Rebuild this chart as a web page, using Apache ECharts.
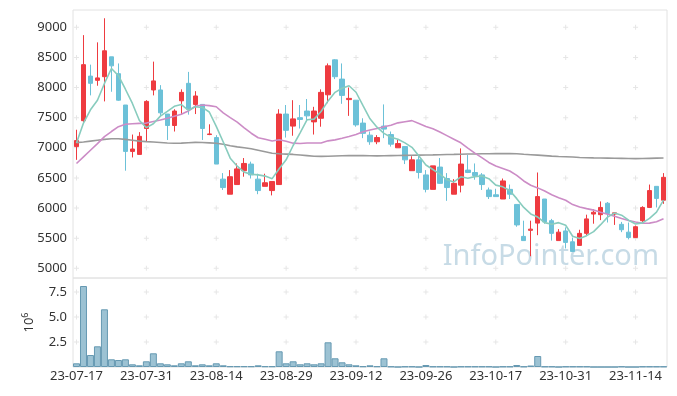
<!DOCTYPE html>
<html><head><meta charset="utf-8">
<script src="https://cdn.jsdelivr.net/npm/echarts@6/dist/echarts.min.js"></script>
<style>html,body{margin:0;padding:0;background:#fff}#c{width:677px;height:396px}</style>
</head><body><div id="c"></div>
<script>
const dates = ['23-07-17','23-07-18','23-07-19','23-07-20','23-07-21','23-07-24','23-07-25','23-07-26','23-07-27','23-07-28',
'23-07-31','23-08-01','23-08-02','23-08-03','23-08-04','23-08-07','23-08-08','23-08-09','23-08-10','23-08-11',
'23-08-14','23-08-16','23-08-17','23-08-18','23-08-21','23-08-22','23-08-23','23-08-24','23-08-25','23-08-28',
'23-08-29','23-08-30','23-08-31','23-09-01','23-09-04','23-09-05','23-09-06','23-09-07','23-09-08','23-09-11',
'23-09-12','23-09-13','23-09-14','23-09-15','23-09-18','23-09-19','23-09-20','23-09-21','23-09-22','23-09-25',
'23-09-26','23-09-27','23-10-04','23-10-05','23-10-06','23-10-10','23-10-11','23-10-12','23-10-13','23-10-16',
'23-10-17','23-10-18','23-10-19','23-10-20','23-10-23','23-10-24','23-10-25','23-10-26','23-10-27','23-10-30',
'23-10-31','23-11-01','23-11-02','23-11-03','23-11-06','23-11-07','23-11-08','23-11-09','23-11-10','23-11-13',
'23-11-14','23-11-15','23-11-16','23-11-17','23-11-20'];

const open = [7020,7450,8190,8120,8180,8510,8230,7710,6940,6890,
7320,7960,7960,7560,7370,7780,8070,7720,7720,7220,
7170,6480,6230,6390,6620,6730,6480,6360,6290,6390,
7560,7360,7500,7610,7430,7490,7880,8460,8140,7800,
7790,7410,7210,7100,7360,7220,7000,7020,6620,6800,
6550,6310,6680,6490,6230,6380,6630,6590,6550,6300,
6220,6150,6310,6060,5530,5630,5750,6150,5790,5460,
5620,5440,5380,5580,5900,5890,6080,5900,5730,5600,
5510,5790,6010,6360,6130];
const close = [7120,8380,8070,8160,8610,8360,7790,6940,6980,7190,
7770,8110,7580,7370,7610,7920,7640,7860,7320,7230,
6730,6340,6520,6650,6740,6550,6290,6420,6440,7560,
7290,7480,7470,7530,7610,7920,8360,8180,7870,7820,
7380,7240,7100,7170,7310,7060,7070,6800,6800,6590,
6310,6700,6410,6340,6410,6730,6590,6540,6390,6190,
6190,6450,6230,5720,5460,5650,6190,5770,5580,5600,
5430,5280,5580,5820,5930,6010,5910,5920,5640,5510,
5690,6010,6290,6160,6510];
const low = [6800,7420,7870,8030,7770,7930,7780,6620,6840,6890,
7100,7870,7530,7130,7270,7560,7550,7560,7130,7210,
6730,6300,6230,6390,6520,6490,6230,6360,6210,6390,
7170,7200,7320,7460,7220,7350,7740,8140,7730,7530,
7350,7160,7050,7060,7160,7020,7000,6730,6620,6490,
6260,6310,6400,6120,6230,6260,6580,6470,6300,6150,
6190,6150,6150,5690,5460,5200,5550,5740,5460,5460,
5330,5280,5380,5550,5740,5800,5760,5720,5600,5480,
5510,5770,6000,6010,6070];
const high = [7300,8870,8380,8750,9150,8510,8400,7710,7220,7260,
7790,8430,8040,7560,7640,7970,8260,7940,7720,7390,
7210,6580,6630,6740,6830,6770,6570,6570,6440,7640,
7710,7790,7710,7810,7680,7970,8400,8470,8400,8000,
7790,7490,7270,7210,7720,7270,7140,7020,6860,6880,
6630,6700,6830,6580,6480,6990,6880,6740,6580,6340,
6320,6490,6390,6060,5790,5790,6590,6150,5820,5650,
5680,5510,5640,5890,5980,6110,6100,5930,5770,5760,
5710,6030,6390,6360,6580];

// volume in millions of shares
const volume = [0.37,8.1,1.2,2.07,5.77,0.77,0.7,0.77,0.27,0.17,
0.57,1.37,0.37,0.27,0.17,0.37,0.57,0.17,0.27,0.17,
0.37,0.17,0.07,0.07,0.07,0.07,0.17,0.07,0.07,1.57,
0.37,0.57,0.27,0.37,0.27,0.37,2.47,0.87,0.47,0.27,
0.17,0.07,0.17,0.07,0.87,0.05,0,0.05,0.05,0,
0.2,0.05,0.05,0.05,0,0.05,0.05,0.05,0.05,0.05,
0,0.05,0.05,0.2,0.05,0.15,1.1,0.05,0.05,0,
0.05,0.05,0.05,0.05,0,0,0,0,0.05,0,
0,0.05,0.05,0.05,0.05];

const ma5Head = [7080,7410,7630,7790];
const ma20Head = [6740,6850,6960,7070,7185,7270,7350,7390,7400,7405,7410,7435,7460,7490,7525,7556,7610,7690,7710];
const ma60 = [7086,7095,7110,7125,7140,7150,7150,7140,7125,7110,
7102,7095,7088,7080,7075,7078,7085,7090,7088,7082,
7075,7060,7035,7015,7000,6985,6960,6935,6910,6900,
6895,6890,6880,6870,6860,6858,6860,6865,6868,6870,
6870,6870,6868,6866,6868,6870,6872,6874,6876,6878,
6880,6882,6885,6888,6890,6893,6896,6898,6900,6902,
6903,6903,6903,6900,6892,6885,6878,6870,6862,6856,
6852,6846,6840,6835,6832,6830,6828,6826,6824,6822,
6820,6822,6825,6828,6831];

const priceTicks = [5000,5500,6000,6500,7000,7500,8000,8500,9000];
const volTicks = [2.5,5,7.5];
const labelStep = 10;

function movingAvg(n, head) {
  return close.map((c, i) => {
    if (i < n - 1) return head[i];
    let s = 0;
    for (let k = i - n + 1; k <= i; k++) s += close[k];
    return +(s / n).toFixed(1);
  });
}
const ma5 = movingAvg(5, ma5Head);
const ma20 = movingAvg(20, ma20Head);

const candles = dates.map((d, i) => [open[i], close[i], low[i], high[i]]);
const gridCats = dates.filter((d, i) => i % labelStep === 0);
const crossMain = [];
gridCats.forEach(d => priceTicks.forEach(v => crossMain.push([d, v])));
const crossVol = [];
gridCats.forEach(d => volTicks.forEach(v => crossVol.push([d, v])));

const UP = '#ee3b40', DOWN = '#6cc1d8';
const FONT = 'Noto Sans';
const crossSym = 'path://M0,2h5v1h-5z M2,0h1v5h-1z';

const chart = echarts.init(document.getElementById('c'), null, {renderer: 'canvas'});
chart.setOption({
  animation: false,
  backgroundColor: '#fff',
  textStyle: {fontFamily: FONT},
  graphic: [{
    type: 'text', x: 659, y: 257, z: 0,
    style: {text: 'InfoPointer.com', align: 'right', verticalAlign: 'middle',
      font: '29px "Noto Sans"', fill: '#c7dbe6'}
  }],
  grid: [
    {left: 73, right: 10, top: 10, height: 268, show: true, borderColor: '#e2e2e2', borderWidth: 1},
    {left: 73, right: 10, top: 278, height: 89, show: true, borderColor: '#e2e2e2', borderWidth: 1}
  ],
  xAxis: [
    {type: 'category', gridIndex: 0, data: dates, boundaryGap: true,
      axisLine: {show: false}, axisTick: {show: false}, axisLabel: {show: false}, splitLine: {show: false}},
    {type: 'category', gridIndex: 1, data: dates, boundaryGap: true,
      axisLine: {show: false}, axisTick: {show: false}, splitLine: {show: false},
      axisLabel: {interval: labelStep - 1, color: '#333', fontSize: 13, fontFamily: FONT, margin: 3}}
  ],
  yAxis: [
    {type: 'value', gridIndex: 0, min: 4839, max: 9287, minInterval: 500, maxInterval: 500,
      axisLine: {show: false}, axisTick: {show: false}, splitLine: {show: false},
      axisLabel: {color: '#333', fontSize: 13, fontFamily: FONT, margin: 6, showMinLabel: false, showMaxLabel: false,
        formatter: v => String(v)}},
    {type: 'value', gridIndex: 1, min: 0, max: 8.9, minInterval: 2.5, maxInterval: 2.5,
      axisLine: {show: false}, axisTick: {show: false}, splitLine: {show: false},
      name: '{a|10}{b|6}', nameLocation: 'middle', nameRotate: 90, nameGap: 36,
      nameTextStyle: {rich: {
        a: {fontSize: 13, color: '#333', fontFamily: FONT},
        b: {fontSize: 9, color: '#333', fontFamily: FONT, verticalAlign: 'top', padding: [0, 0, 7, 0]}
      }},
      axisLabel: {color: '#333', fontSize: 13, fontFamily: FONT, margin: 6, showMinLabel: false, showMaxLabel: false,
        formatter: v => v.toFixed(1)}}
  ],
  series: [
    {type: 'scatter', xAxisIndex: 0, yAxisIndex: 0, data: crossMain, symbol: crossSym, symbolSize: 5,
      itemStyle: {color: '#e0e0e0'}, silent: true, z: 1},
    {type: 'scatter', xAxisIndex: 1, yAxisIndex: 1, data: crossVol, symbol: crossSym, symbolSize: 5,
      itemStyle: {color: '#e0e0e0'}, silent: true, z: 1},
    {type: 'candlestick', xAxisIndex: 0, yAxisIndex: 0, data: candles, barWidth: 5,
      itemStyle: {color: UP, color0: DOWN, borderColor: UP, borderColor0: DOWN, borderWidth: 1}, z: 3},
    {type: 'line', xAxisIndex: 0, yAxisIndex: 0, data: ma60, showSymbol: false,
      lineStyle: {color: '#9a9a9a', width: 1.6}, z: 4},
    {type: 'line', xAxisIndex: 0, yAxisIndex: 0, data: ma20, showSymbol: false,
      lineStyle: {color: '#cc8cc6', width: 1.6}, z: 4},
    {type: 'line', xAxisIndex: 0, yAxisIndex: 0, data: ma5, showSymbol: false,
      lineStyle: {color: '#88ccbe', width: 1.6}, z: 4},
    {type: 'bar', xAxisIndex: 1, yAxisIndex: 1, data: volume, barWidth: '100%',
      itemStyle: {color: '#9cc2d3', borderColor: '#6699b2', borderWidth: 1}, z: 3}
  ]
});
</script></body></html>
